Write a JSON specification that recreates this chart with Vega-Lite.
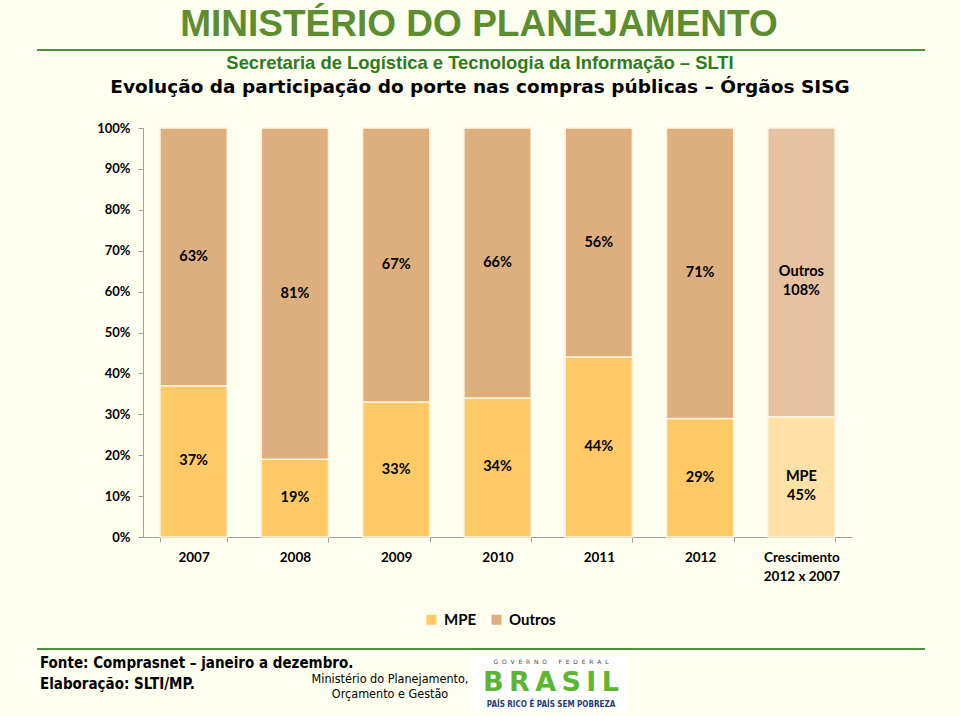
{
  "$schema": "https://vega.github.io/schema/vega-lite/v6.json",
  "width": 709,
  "height": 409,
  "autosize": {"type": "none"},
  "padding": {"left": 143, "top": 128, "right": 108, "bottom": 179},
  "background": "#FFFFF0",
  "config": {"view": {"stroke": null}, "font": "Lato"},
  "resolve": {"scale": {"x": "independent", "y": "independent", "color": "independent"}},
  "layer": [
    {
      "data": {"values": [
        {"ano": "2007", "porte": "MPE", "valor": 37, "rotulo": "37%"},
        {"ano": "2007", "porte": "Outros", "valor": 63, "rotulo": "63%"},
        {"ano": "2008", "porte": "MPE", "valor": 19, "rotulo": "19%"},
        {"ano": "2008", "porte": "Outros", "valor": 81, "rotulo": "81%"},
        {"ano": "2009", "porte": "MPE", "valor": 33, "rotulo": "33%"},
        {"ano": "2009", "porte": "Outros", "valor": 67, "rotulo": "67%"},
        {"ano": "2010", "porte": "MPE", "valor": 34, "rotulo": "34%"},
        {"ano": "2010", "porte": "Outros", "valor": 66, "rotulo": "66%"},
        {"ano": "2011", "porte": "MPE", "valor": 44, "rotulo": "44%"},
        {"ano": "2011", "porte": "Outros", "valor": 56, "rotulo": "56%"},
        {"ano": "2012", "porte": "MPE", "valor": 29, "rotulo": "29%"},
        {"ano": "2012", "porte": "Outros", "valor": 71, "rotulo": "71%"},
        {"ano": "Crescimento", "porte": "MPE", "valor": 45, "rotulo": "MPE\n45%"},
        {"ano": "Crescimento", "porte": "Outros", "valor": 108, "rotulo": "Outros\n108%"}
      ]},
      "transform": [
        {"stack": "valor", "groupby": ["ano"], "sort": [{"field": "porte", "order": "ascending"}], "offset": "normalize", "as": ["y0", "y1"]},
        {"calculate": "(datum.y0 + datum.y1) / 2", "as": "ymeio"}
      ],
      "encoding": {
        "x": {
          "field": "ano", "type": "nominal", "sort": null,
          "scale": {"paddingInner": 0.337, "paddingOuter": 0.168},
          "axis": {
            "title": null, "labelAngle": 0, "labelFont": "Lato", "labelFontWeight": "bold",
            "labelFontSize": 13.5, "labelColor": "#000000", "labelPadding": 8,
            "labelLineHeight": 19,
            "labelExpr": "datum.value == 'Crescimento' ? ['Crescimento', '2012 x 2007'] : datum.value",
            "tickBand": "extent", "tickSize": 5, "tickColor": "#A0A0A0", "domainColor": "#A0A0A0"
          }
        }
      },
      "layer": [
        {
          "mark": {"type": "bar", "stroke": "#FBF3DC", "strokeWidth": 1.5},
          "encoding": {
            "y": {
              "field": "y0", "type": "quantitative", "scale": {"domain": [0, 1]},
              "axis": {
                "title": null, "format": ".0%", "values": [0, 0.1, 0.2, 0.3, 0.4, 0.5, 0.6, 0.7, 0.8, 0.9, 1],
                "grid": false, "labelFont": "Lato", "labelFontWeight": "bold", "labelFontSize": 13,
                "labelColor": "#000000", "tickSize": 5, "labelPadding": 8,
                "domainColor": "#A0A0A0", "tickColor": "#A0A0A0"
              }
            },
            "y2": {"field": "y1"},
            "color": {
              "field": "porte", "type": "nominal",
              "scale": {"domain": ["MPE", "Outros"], "range": ["#FFC966", "#DDAF7E"]},
              "condition": [
                {"test": "datum.ano == 'Crescimento' && datum.porte == 'MPE'", "value": "#FFE0A6"},
                {"test": "datum.ano == 'Crescimento' && datum.porte == 'Outros'", "value": "#E6C3A0"}
              ],
              "legend": {
                "orient": "none", "legendX": 281, "legendY": 484, "direction": "horizontal",
                "title": null, "symbolType": "square", "symbolSize": 100, "symbolStrokeWidth": 0,
                "labelFont": "Lato", "labelFontWeight": "bold", "labelFontSize": 15,
                "labelColor": "#000000", "columnPadding": 12, "labelOffset": 5
              }
            }
          }
        },
        {
          "mark": {"type": "text", "font": "Lato", "fontWeight": "bold", "fontSize": 14.5, "color": "#000000", "lineBreak": "\n", "baseline": "middle", "lineHeight": 19},
          "encoding": {
            "y": {"field": "ymeio", "type": "quantitative"},
            "text": {"field": "rotulo"}
          }
        }
      ]
    },
    {
      "layer": [
        {
          "data": {"values": [{}]},
          "mark": {"type": "text", "text": "MINISTÉRIO DO PLANEJAMENTO", "font": "Liberation Sans", "fontWeight": "bold", "fontSize": 37, "color": "#5E8C31", "align": "center", "baseline": "alphabetic"},
          "encoding": {
            "x": {"datum": 0.4739, "type": "quantitative", "scale": {"domain": [0, 1], "nice": false, "zero": false}, "axis": null},
            "y": {"datum": 1.2249, "type": "quantitative", "scale": {"domain": [0, 1], "nice": false, "zero": false}, "axis": null}
          }
        },
        {
          "data": {"values": [{}]},
          "mark": {"type": "rule", "color": "#4E8F3E", "strokeWidth": 2},
          "encoding": {
            "x": {"datum": -0.1495, "type": "quantitative", "scale": {"domain": [0, 1], "nice": false, "zero": false}, "axis": null},
            "x2": {"datum": 1.103},
            "y": {"datum": 1.1907, "type": "quantitative", "scale": {"domain": [0, 1], "nice": false, "zero": false}, "axis": null}
          }
        },
        {
          "data": {"values": [{}]},
          "mark": {"type": "text", "text": "Secretaria de Logística e Tecnologia da Informação – SLTI", "font": "Liberation Sans", "fontWeight": "bold", "fontSize": 18.4, "color": "#2E7A22", "align": "center", "baseline": "alphabetic"},
          "encoding": {
            "x": {"datum": 0.4753, "type": "quantitative", "scale": {"domain": [0, 1], "nice": false, "zero": false}, "axis": null},
            "y": {"datum": 1.1443, "type": "quantitative", "scale": {"domain": [0, 1], "nice": false, "zero": false}, "axis": null}
          }
        },
        {
          "data": {"values": [{}]},
          "mark": {"type": "text", "text": "Evolução da participação do porte nas compras públicas – Órgãos SISG", "font": "DejaVu Sans", "fontWeight": "bold", "fontSize": 18.5, "color": "#000000", "align": "center", "baseline": "alphabetic"},
          "encoding": {
            "x": {"datum": 0.4753, "type": "quantitative", "scale": {"domain": [0, 1], "nice": false, "zero": false}, "axis": null},
            "y": {"datum": 1.0856, "type": "quantitative", "scale": {"domain": [0, 1], "nice": false, "zero": false}, "axis": null}
          }
        },
        {
          "data": {"values": [{}]},
          "mark": {"type": "rule", "color": "#4E8F3E", "strokeWidth": 2},
          "encoding": {
            "x": {"datum": -0.1495, "type": "quantitative", "scale": {"domain": [0, 1], "nice": false, "zero": false}, "axis": null},
            "x2": {"datum": 1.103},
            "y": {"datum": -0.2738, "type": "quantitative", "scale": {"domain": [0, 1], "nice": false, "zero": false}, "axis": null}
          }
        },
        {
          "data": {"values": [{}]},
          "mark": {"type": "text", "text": "Fonte: Comprasnet – janeiro a dezembro.", "font": "DejaVu Sans Condensed", "fontWeight": "bold", "fontSize": 15, "color": "#000000", "align": "left", "baseline": "alphabetic"},
          "encoding": {
            "x": {"datum": -0.1453, "type": "quantitative", "scale": {"domain": [0, 1], "nice": false, "zero": false}, "axis": null},
            "y": {"datum": -0.3203, "type": "quantitative", "scale": {"domain": [0, 1], "nice": false, "zero": false}, "axis": null}
          }
        },
        {
          "data": {"values": [{}]},
          "mark": {"type": "text", "text": "Elaboração: SLTI/MP.", "font": "DejaVu Sans Condensed", "fontWeight": "bold", "fontSize": 15, "color": "#000000", "align": "left", "baseline": "alphabetic"},
          "encoding": {
            "x": {"datum": -0.1453, "type": "quantitative", "scale": {"domain": [0, 1], "nice": false, "zero": false}, "axis": null},
            "y": {"datum": -0.3716, "type": "quantitative", "scale": {"domain": [0, 1], "nice": false, "zero": false}, "axis": null}
          }
        },
        {
          "data": {"values": [{}]},
          "mark": {"type": "text", "text": "Ministério do Planejamento,", "font": "DejaVu Sans Condensed", "fontSize": 12.5, "color": "#000000", "align": "center", "baseline": "alphabetic"},
          "encoding": {
            "x": {"datum": 0.3484, "type": "quantitative", "scale": {"domain": [0, 1], "nice": false, "zero": false}, "axis": null},
            "y": {"datum": -0.357, "type": "quantitative", "scale": {"domain": [0, 1], "nice": false, "zero": false}, "axis": null}
          }
        },
        {
          "data": {"values": [{}]},
          "mark": {"type": "text", "text": "Orçamento e Gestão", "font": "DejaVu Sans Condensed", "fontSize": 12.5, "color": "#000000", "align": "center", "baseline": "alphabetic"},
          "encoding": {
            "x": {"datum": 0.3484, "type": "quantitative", "scale": {"domain": [0, 1], "nice": false, "zero": false}, "axis": null},
            "y": {"datum": -0.3936, "type": "quantitative", "scale": {"domain": [0, 1], "nice": false, "zero": false}, "axis": null}
          }
        },
        {
          "data": {"values": [{}]},
          "mark": {"type": "rect", "color": "#FFFFFF"},
          "encoding": {
            "x": {"datum": 0.464, "type": "quantitative", "scale": {"domain": [0, 1], "nice": false, "zero": false}, "axis": null},
            "x2": {"datum": 0.6869},
            "y": {"datum": -0.2885, "type": "quantitative", "scale": {"domain": [0, 1], "nice": false, "zero": false}, "axis": null},
            "y2": {"datum": -0.4279}
          }
        },
        {
          "data": {"values": [{}]},
          "mark": {"type": "text", "text": "G\u00a0\u00a0O\u00a0\u00a0V\u00a0\u00a0E\u00a0\u00a0R\u00a0\u00a0N\u00a0\u00a0O\u00a0\u00a0\u00a0\u00a0\u00a0\u00a0F\u00a0\u00a0E\u00a0\u00a0D\u00a0\u00a0E\u00a0\u00a0R\u00a0\u00a0A\u00a0\u00a0L", "font": "DejaVu Sans", "fontSize": 6, "color": "#444444", "align": "center", "baseline": "alphabetic"},
          "encoding": {
            "x": {"datum": 0.5755, "type": "quantitative", "scale": {"domain": [0, 1], "nice": false, "zero": false}, "axis": null},
            "y": {"datum": -0.3105, "type": "quantitative", "scale": {"domain": [0, 1], "nice": false, "zero": false}, "axis": null}
          }
        },
        {
          "data": {"values": [{}]},
          "mark": {"type": "text", "text": "B\u2009R\u2009A\u2009S\u2009I\u2009L", "font": "DejaVu Sans", "fontWeight": "bold", "fontSize": 27, "color": "#5DB531", "align": "center", "baseline": "alphabetic"},
          "encoding": {
            "x": {"datum": 0.5755, "type": "quantitative", "scale": {"domain": [0, 1], "nice": false, "zero": false}, "axis": null},
            "y": {"datum": -0.3765, "type": "quantitative", "scale": {"domain": [0, 1], "nice": false, "zero": false}, "axis": null}
          }
        },
        {
          "data": {"values": [{}]},
          "mark": {"type": "text", "text": "PAÍS RICO É PAÍS SEM POBREZA", "font": "DejaVu Sans Condensed", "fontWeight": "bold", "fontSize": 8, "color": "#1F3C78", "align": "center", "baseline": "alphabetic"},
          "encoding": {
            "x": {"datum": 0.5755, "type": "quantitative", "scale": {"domain": [0, 1], "nice": false, "zero": false}, "axis": null},
            "y": {"datum": -0.4156, "type": "quantitative", "scale": {"domain": [0, 1], "nice": false, "zero": false}, "axis": null}
          }
        }
      ]
    }
  ]
}
